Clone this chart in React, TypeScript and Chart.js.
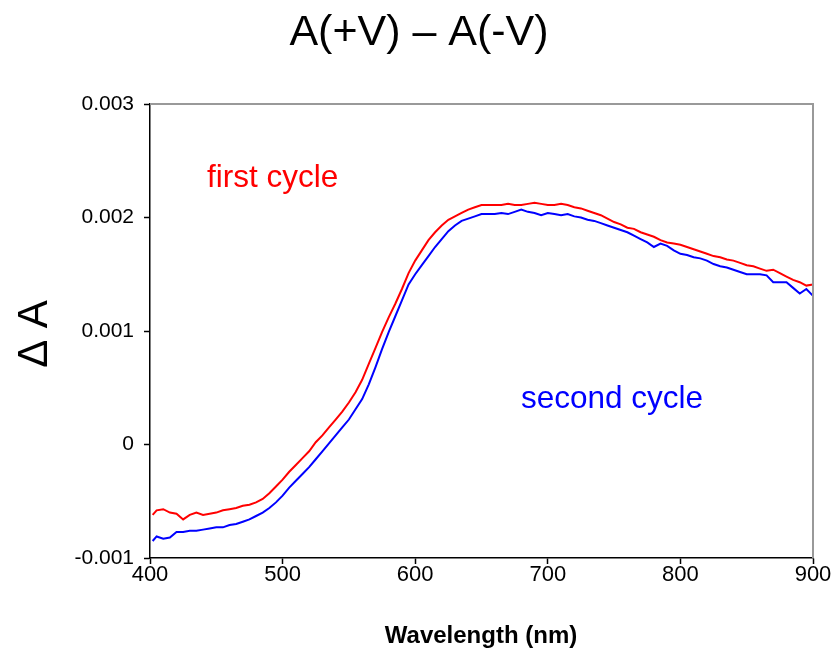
import React, { useEffect, useRef } from 'react';
import { Chart, registerables } from 'chart.js';

Chart.register(...registerables);

const wavelengths = [402, 405, 410, 415, 420, 425, 430, 435, 440, 445, 450, 455, 460, 465, 470, 475, 480, 485, 490, 495,
  500, 505, 510, 515, 520, 525, 530, 535, 540, 545, 550, 555, 560, 565, 570, 575, 580, 585, 590, 595,
  600, 605, 610, 615, 620, 625, 630, 635, 640, 645, 650, 655, 660, 665, 670, 675, 680, 685, 690, 695,
  700, 705, 710, 715, 720, 725, 730, 735, 740, 745, 750, 755, 760, 765, 770, 775, 780, 785, 790, 795,
  800, 805, 810, 815, 820, 825, 830, 835, 840, 845, 850, 855, 860, 865, 870, 875, 880, 885, 890, 895, 900];

const firstCycle = [-0.00062, -0.00058, -0.00057, -0.00060, -0.00061, -0.00066, -0.00062, -0.00060, -0.00062, -0.00061,
  -0.00060, -0.00058, -0.00057, -0.00056, -0.00054, -0.00053, -0.00051, -0.00048, -0.00043, -0.00037,
  -0.00031, -0.00024, -0.00018, -0.00012, -0.00006, 0.00002, 0.00008, 0.00015, 0.00022, 0.00029,
  0.00037, 0.00046, 0.00057, 0.00071, 0.00085, 0.00099, 0.00112, 0.00124, 0.00137, 0.00151,
  0.00162, 0.00171, 0.00180, 0.00187, 0.00193, 0.00198, 0.00201, 0.00204, 0.00207, 0.00209,
  0.00211, 0.00211, 0.00211, 0.00211, 0.00212, 0.00211, 0.00211, 0.00212, 0.00213, 0.00212,
  0.00211, 0.00211, 0.00212, 0.00211, 0.00209, 0.00208, 0.00206, 0.00204, 0.00202, 0.00199,
  0.00196, 0.00194, 0.00191, 0.00190, 0.00187, 0.00185, 0.00183, 0.00180, 0.00178, 0.00177,
  0.00176, 0.00174, 0.00172, 0.00170, 0.00168, 0.00166, 0.00165, 0.00163, 0.00162, 0.00160,
  0.00158, 0.00157, 0.00155, 0.00153, 0.00154, 0.00151, 0.00148, 0.00145, 0.00143, 0.00140, 0.00141];

const secondCycle = [-0.00085, -0.00081, -0.00083, -0.00082, -0.00077, -0.00077, -0.00076, -0.00076, -0.00075, -0.00074,
  -0.00073, -0.00073, -0.00071, -0.00070, -0.00068, -0.00066, -0.00063, -0.00060, -0.00056, -0.00051,
  -0.00045, -0.00038, -0.00032, -0.00026, -0.00020, -0.00013, -0.00006, 0.00001, 0.00008, 0.00015,
  0.00022, 0.00031, 0.00040, 0.00053, 0.00068, 0.00084, 0.00099, 0.00113, 0.00127, 0.00141,
  0.00150, 0.00158, 0.00166, 0.00174, 0.00181, 0.00188, 0.00193, 0.00197, 0.00199, 0.00201,
  0.00203, 0.00203, 0.00203, 0.00204, 0.00203, 0.00205, 0.00207, 0.00205, 0.00204, 0.00202,
  0.00204, 0.00203, 0.00202, 0.00203, 0.00201, 0.00200, 0.00198, 0.00197, 0.00195, 0.00193,
  0.00191, 0.00189, 0.00187, 0.00184, 0.00181, 0.00178, 0.00174, 0.00177, 0.00175, 0.00171,
  0.00168, 0.00167, 0.00165, 0.00164, 0.00162, 0.00159, 0.00157, 0.00156, 0.00154, 0.00152,
  0.00150, 0.00150, 0.00150, 0.00149, 0.00143, 0.00143, 0.00143, 0.00138, 0.00133, 0.00137, 0.00131];

const xTicks = [400, 500, 600, 700, 800, 900];
const yTicks = [-0.001, 0, 0.001, 0.002, 0.003];

const titleText = 'A(+V) \u2013 A(-V)';
const yTitle = '\u0394 A';
const xTitle = 'Wavelength (nm)';
const firstLabel = 'first cycle';
const secondLabel = 'second cycle';

const FONT = '"Liberation Sans", Arial, sans-serif';

const textPlugin = {
  id: 'textPlugin',
  afterDraw(chart: any) {
    const ctx = chart.ctx;
    const ca = chart.chartArea;
    ctx.save();
    ctx.strokeStyle = '#999999';
    ctx.lineWidth = 2;
    ctx.beginPath();
    ctx.moveTo(ca.left, ca.top);
    ctx.lineTo(ca.right, ca.top);
    ctx.lineTo(ca.right, ca.bottom);
    ctx.stroke();
    ctx.textBaseline = 'middle';
    ctx.textAlign = 'center';
    ctx.fillStyle = '#000';
    ctx.font = `43px ${FONT}`;
    ctx.fillText(titleText, 419, 33);
    ctx.font = `bold 24px ${FONT}`;
    ctx.fillText(xTitle, 481, 636);
    ctx.save();
    ctx.translate(35, 334);
    ctx.rotate(-Math.PI / 2);
    ctx.font = `42px ${FONT}`;
    ctx.fillText(yTitle, 0, 0);
    ctx.restore();
    ctx.textAlign = 'left';
    ctx.font = `31.5px ${FONT}`;
    ctx.fillStyle = '#ff0000';
    ctx.fillText(firstLabel, 207, 178);
    ctx.fillStyle = '#0000ff';
    ctx.fillText(secondLabel, 521, 399);
    ctx.restore();
  },
};

export default function App() {
  const ref = useRef<HTMLCanvasElement>(null);
  useEffect(() => {
    if (!ref.current) return;
    const chart = new Chart(ref.current, {
      type: 'line',
      data: {
        datasets: [
          {
            label: firstLabel,
            data: wavelengths.map((w, i) => ({ x: w, y: firstCycle[i] })),
            borderColor: '#ff0000',
            borderWidth: 2,
            pointRadius: 0,
            tension: 0,
            fill: false,
          },
          {
            label: secondLabel,
            data: wavelengths.map((w, i) => ({ x: w, y: secondCycle[i] })),
            borderColor: '#0000ff',
            borderWidth: 2,
            pointRadius: 0,
            tension: 0,
            fill: false,
          },
        ],
      },
      options: {
        responsive: false,
        animation: false,
        layout: { padding: { top: 104, right: 25, bottom: 0, left: 0 } },
        plugins: {
          legend: { display: false },
          title: { display: false },
          tooltip: { enabled: false },
        },
        scales: {
          x: {
            type: 'linear',
            min: 400,
            max: 900,
            afterFit: (s: any) => { s.height = 94; },
            afterBuildTicks: (s: any) => { s.ticks = xTicks.map((v) => ({ value: v })); },
            grid: { drawOnChartArea: false, drawTicks: true, tickLength: 6, tickColor: '#000', tickWidth: 1.5 },
            border: { color: '#000', width: 1.5 },
            ticks: {
              color: '#000',
              font: { family: FONT, size: 22 },
              padding: -2,
              maxRotation: 0,
              callback: (v: any) => String(v),
            },
          },
          y: {
            type: 'linear',
            min: -0.001,
            max: 0.003,
            afterFit: (s: any) => { s.width = 150; },
            afterBuildTicks: (s: any) => { s.ticks = yTicks.map((v) => ({ value: v })); },
            grid: { drawOnChartArea: false, drawTicks: true, tickLength: 6, tickColor: '#000', tickWidth: 1.5 },
            border: { color: '#000', width: 1.5 },
            ticks: {
              color: '#000',
              font: { family: FONT, size: 21 },
              padding: 10,
              callback: (v: any) => {
                const r = Math.round(Number(v) * 1000);
                return r === 0 ? '0' : (r / 1000).toFixed(3);
              },
            },
          },
        },
      },
      plugins: [textPlugin],
    });
    return () => chart.destroy();
  }, []);
  return (
    <div style={{ position: 'absolute', left: 0, top: 0, width: 838, height: 652, background: '#fff' }}>
      <canvas ref={ref} width={838} height={652} />
    </div>
  );
}
